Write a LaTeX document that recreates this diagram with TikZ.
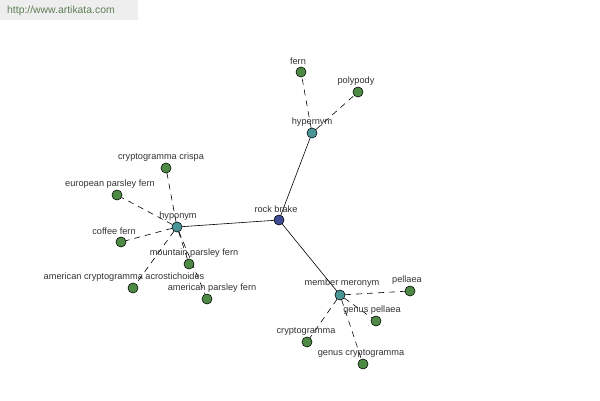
\documentclass[tikz,border=0pt]{standalone}
\usepackage{fontspec}
\setmainfont{Liberation Sans}
\usepackage{xcolor}
\definecolor{leafgreen}{HTML}{4E8A45}
\definecolor{hubteal}{HTML}{4A9696}
\definecolor{rootblue}{HTML}{3E4A92}
\definecolor{txtgray}{HTML}{333333}
\definecolor{webgray}{HTML}{EEEEEE}
\definecolor{webtext}{HTML}{5E7F55}
\tikzset{
  leaf/.style={circle,draw=black,fill=leafgreen,minimum size=10pt,inner sep=0pt},
  hub/.style={circle,draw=black,fill=hubteal,minimum size=10pt,inner sep=0pt},
  root/.style={circle,draw=black,fill=rootblue,minimum size=10pt,inner sep=0pt},
  lbl/.style={text=txtgray,font=\fontsize{9.2}{10}\selectfont,inner sep=0pt},
  rel/.style={black,line width=0.6pt,dash pattern=on 6pt off 5pt},
  main/.style={black,line width=0.6pt}
}

\begin{document}
\begin{tikzpicture}[x=1pt,y=-1pt]

  \useasboundingbox[fill=white] (0,0) rectangle (600,400);

  % watermark
  \fill[webgray] (0,0) rectangle (138,20);
  \node[text=webtext,font=\fontsize{10.4}{12}\selectfont,anchor=west,inner sep=0pt] at (7,11) {http://www.artikata.com};

  % word and relation nodes
  \node[root] (rock) at (279,220) {};
  \node[hub] (hyper) at (312,133) {};
  \node[hub] (hypo) at (177,227) {};
  \node[hub] (mero) at (340,295) {};

  \node[leaf] (fern) at (301,72) {};
  \node[leaf] (polypody) at (358,92) {};

  \node[leaf] (crispa) at (166,168) {};
  \node[leaf] (european) at (117,195) {};
  \node[leaf] (coffee) at (121,242) {};
  \node[leaf] (mountain) at (189,264) {};
  \node[leaf] (acrost) at (133,288) {};
  \node[leaf] (amparsley) at (207,299) {};

  \node[leaf] (pellaea) at (410,291) {};
  \node[leaf] (gpellaea) at (376,321) {};
  \node[leaf] (crypto) at (307,342) {};
  \node[leaf] (gcrypto) at (363,364) {};

  % edges
  \draw[main] (rock) -- (hyper);
  \draw[main] (rock) -- (hypo);
  \draw[main] (rock) -- (mero);

  \foreach \n in {fern,polypody}
    \draw[rel] (hyper) -- (\n);
  \foreach \n in {crispa,european,coffee,mountain,acrost,amparsley}
    \draw[rel] (hypo) -- (\n);
  \foreach \n in {pellaea,gpellaea,crypto,gcrypto}
    \draw[rel] (mero) -- (\n);

  % redraw nodes above edges
  \foreach \n in {rock}
    \node[root] at (\n) {};
  \foreach \n in {hyper,hypo,mero}
    \node[hub] at (\n) {};
  \foreach \n in {fern,polypody,crispa,european,coffee,mountain,acrost,amparsley,pellaea,gpellaea,crypto,gcrypto}
    \node[leaf] at (\n) {};

  % labels
  \node[lbl] (rock-t) at (276,209) {rock brake};
  \node[lbl] (hyper-t) at (312,122) {hypernym};
  \node[lbl] (hypo-t) at (178,216) {hyponym};
  \node[lbl] (mero-t) at (342,283) {member meronym};

  \node[lbl] (fern-t) at (298,61) {fern};
  \node[lbl] (polypody-t) at (356,81) {polypody};

  \node[lbl] (crispa-t) at (161,157) {cryptogramma crispa};
  \node[lbl] (european-t) at (110,184) {european parsley fern};
  \node[lbl] (coffee-t) at (114,231) {coffee fern};
  \node[lbl] (mountain-t) at (194,253) {mountain parsley fern};
  \node[lbl] (acrost-t) at (124,277) {american cryptogramma acrostichoides};
  \node[lbl] (amparsley-t) at (212,288) {american parsley fern};

  \node[lbl] (pellaea-t) at (407,280) {pellaea};
  \node[lbl] (gpellaea-t) at (372,310) {genus pellaea};
  \node[lbl] (crypto-t) at (306,331) {cryptogramma};
  \node[lbl] (gcrypto-t) at (361,353) {genus cryptogramma};

\end{tikzpicture}
\end{document}
